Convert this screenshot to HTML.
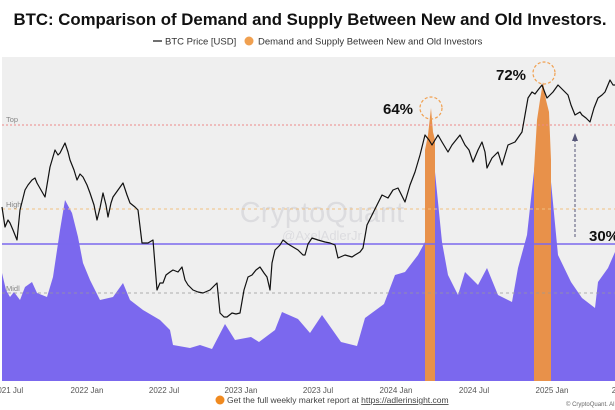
<!DOCTYPE html>
<html><head><meta charset="utf-8"><style>
html,body{margin:0;padding:0;background:#fff;width:615px;height:410px;overflow:hidden;font-family:"Liberation Sans",sans-serif}
</style></head><body>
<svg width="615" height="410" viewBox="0 0 615 410" xmlns="http://www.w3.org/2000/svg" font-family="Liberation Sans, sans-serif">
<text x="310" y="25" text-anchor="middle" font-size="16.8" font-weight="bold" fill="#111">BTC: Comparison of Demand and Supply Between New and Old Investors.</text>
<line x1="153" y1="41" x2="162" y2="41" stroke="#222" stroke-width="1.3"/>
<text x="165" y="44.5" font-size="9.5" fill="#333">BTC Price [USD]</text>
<circle cx="249" cy="41" r="4.5" fill="#f0a050"/>
<text x="258" y="44.5" font-size="9.5" fill="#333">Demand and Supply Between New and Old Investors</text>
<rect x="2" y="57" width="613" height="324" fill="#efefef"/>
<polygon fill="#7b68ee" points="2,381 2,273 6,290 10,297 14,292 20,300 25,287 32,282 37,293 47,297 53,277 60,230 65,200 72,213 78,237 83,263 90,280 100,300 113,297 123,283 130,300 143,310 160,320 170,330 173,345 190,348 200,345 212,349 225,324 235,340 251,337 259,342 275,330 282,312 298,319 310,333 322,315 341,342 357,346 365,318 384,304 395,275 405,272 418,255 425,242 430,200 435,172 442,242 448,275 458,295 465,272 478,285 487,268 498,295 512,302 518,268 527,235 535,162 545,170 551,182 558,255 571,282 582,298 595,308 598,282 608,268 615,252 615,381"/>
<polygon fill="#e8914a" points="425,381 425,150 428,135 431,108 433,132 435,140 435,381"/>
<polygon fill="#e8914a" points="534,381 534,170 537,120 540,100 543,82 546,100 549,112 551,160 551,381"/>
<text x="322" y="222" text-anchor="middle" font-size="29" fill="#d0d0d6" opacity="0.6">CryptoQuant</text>
<text x="322" y="240" text-anchor="middle" font-size="13" fill="#d0d0d6" opacity="0.6">@AxelAdlerJr</text>
<line x1="2" y1="125" x2="615" y2="125" stroke="#e88" stroke-width="1" stroke-dasharray="2,2"/>
<line x1="2" y1="209" x2="615" y2="209" stroke="#f0c080" stroke-width="1" stroke-dasharray="3,3"/>
<line x1="2" y1="293" x2="615" y2="293" stroke="#999" stroke-width="0.8" stroke-dasharray="3,3"/>
<line x1="2" y1="244" x2="615" y2="244" stroke="#7b68ee" stroke-width="1.5"/>
<text x="6" y="122" font-size="7.5" fill="#888">Top</text>
<text x="6" y="207" font-size="7.5" fill="#888">High</text>
<text x="6" y="291" font-size="7.5" fill="#888">Midl</text>
<polyline fill="none" stroke="#111" stroke-width="1.2" stroke-linejoin="round" points="2,207 5,227 8,220 10,223 13,230 17,240 20,210 25,190 28,185 32,180 35,178 37,183 41,190 45,197 50,167 55,150 58,155 60,153 65,143 68,152 70,160 74,170 77,180 80,174 83,177 87,185 90,193 94,205 97,220 100,208 103,193 106,205 108,217 111,203 113,197 118,190 123,183 127,195 130,203 135,207 138,210 142,243 148,243 153,240 157,290 160,283 163,283 166,275 170,272 173,270 178,272 182,267 185,280 188,285 193,290 198,292 203,293 210,290 217,283 220,313 224,317 227,317 232,313 236,314 240,313 244,290 248,277 252,275 256,270 260,267 264,273 267,277 270,290 272,263 275,250 280,245 283,240 288,244 293,247 298,250 303,255 305,255 308,244 312,238 318,240 325,242 330,243 335,245 338,258 345,255 352,257 355,255 360,252 363,248 367,225 372,215 377,205 382,195 388,198 393,190 398,188 402,196 405,202 410,185 415,172 420,155 425,135 429,140 432,145 435,140 438,135 442,142 448,152 452,145 456,140 460,135 465,145 469,150 473,162 478,150 482,142 485,152 487,168 492,158 498,152 502,165 505,155 508,145 515,142 522,132 525,115 528,98 532,92 535,94 538,90 542,85 545,93 547,98 550,95 553,92 558,85 563,90 568,95 571,105 575,115 580,112 582,115 586,118 590,122 594,108 598,98 602,95 605,92 610,80 613,85 615,85"/>
<circle cx="431" cy="108" r="11" fill="none" stroke="#f0a050" stroke-width="1.2" stroke-dasharray="3,2"/>
<circle cx="544" cy="73" r="11" fill="none" stroke="#f0a050" stroke-width="1.2" stroke-dasharray="3,2"/>
<text x="383" y="114" font-size="15" font-weight="bold" fill="#111">64%</text>
<text x="496" y="80" font-size="15" font-weight="bold" fill="#111">72%</text>
<text x="589" y="241" font-size="15" font-weight="bold" fill="#111">30%</text>
<line x1="575" y1="237" x2="575" y2="140" stroke="#557" stroke-width="1" stroke-dasharray="3,2"/>
<polygon points="572,141 578,141 575,133" fill="#557"/>
<g font-size="8" fill="#555" text-anchor="middle">
<text x="8" y="393">2021 Jul</text><text x="87" y="393">2022 Jan</text><text x="164" y="393">2022 Jul</text><text x="241" y="393">2023 Jan</text><text x="318" y="393">2023 Jul</text><text x="396" y="393">2024 Jan</text><text x="474" y="393">2024 Jul</text><text x="552" y="393">2025 Jan</text><text x="614" y="393">2</text>
</g>
<circle cx="220" cy="400" r="4.5" fill="#f08a20"/>
<text x="227" y="403" font-size="8.5" fill="#444">Get the full weekly market report at <tspan text-decoration="underline">https://adlerinsight.com</tspan></text>
<text x="566" y="406" font-size="6" fill="#666">© CryptoQuant. Al</text>
</svg>
</body></html>
